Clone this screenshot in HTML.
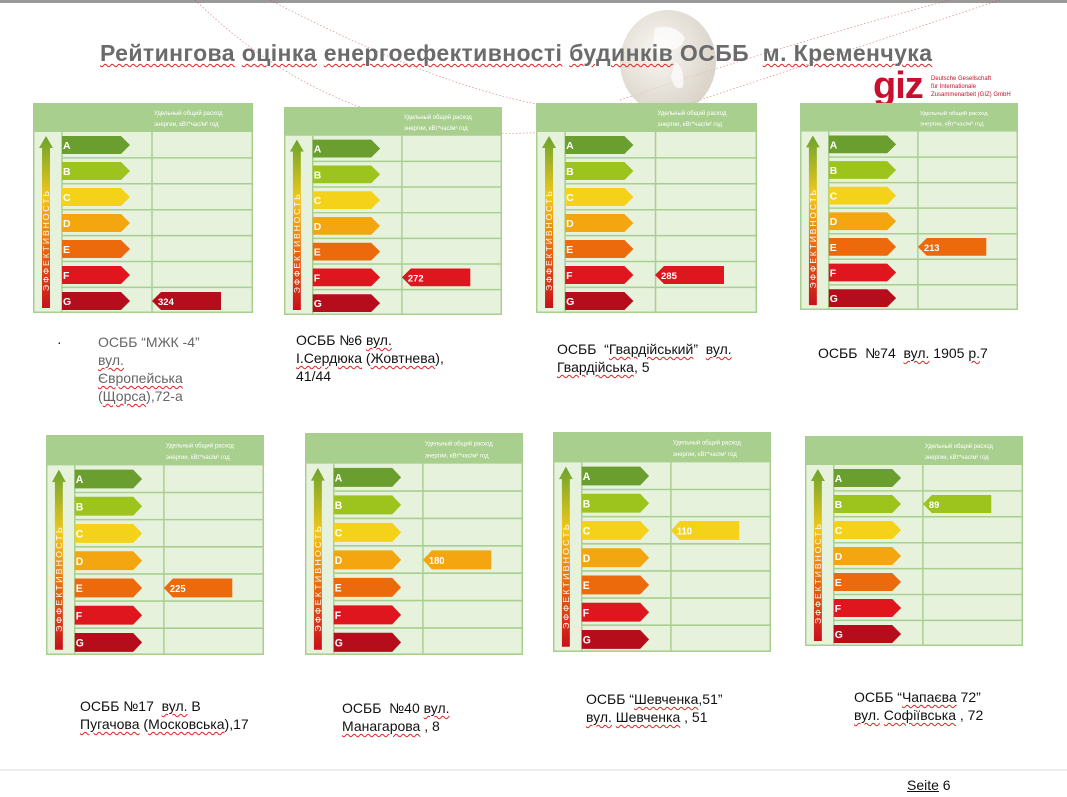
<!DOCTYPE html>
<html><head><meta charset="utf-8"><style>
body{margin:0;width:1067px;height:797px;background:#fff;position:relative;overflow:hidden;font-family:"Liberation Sans",sans-serif}
.cap{position:absolute;font-size:14px;line-height:18px;color:#111}
.u{text-decoration:underline wavy #d22;text-decoration-thickness:1px;text-underline-offset:2px}
svg.ch{position:absolute}
</style></head><body>
<svg width="1067" height="797" style="position:absolute;left:0;top:0">
<defs>
<radialGradient id="gl" cx="0.4" cy="0.4" r="0.6"><stop offset="0" stop-color="#f7f5f0"/><stop offset="1" stop-color="#cfc7b8"/></radialGradient>
<linearGradient id="va" x1="0" y1="1" x2="0" y2="0"><stop offset="0" stop-color="#c8101c"/><stop offset="0.35" stop-color="#e86a10"/><stop offset="0.65" stop-color="#f2c81a"/><stop offset="1" stop-color="#6aa32e"/></linearGradient>
<symbol id="c" viewBox="0 0 220 210" preserveAspectRatio="none">
<rect x="0" y="0" width="220" height="210" fill="#e6f2dc"/>
<rect x="0" y="0" width="220" height="29" fill="#a8cf8e"/>
<g stroke="#a9cf90" stroke-width="1.5" fill="none">
<rect x="0.75" y="0.75" width="218.5" height="208.5"/>
<line x1="29" y1="29" x2="29" y2="210"/><line x1="119" y1="29" x2="119" y2="210"/>
<line x1="29" y1="54.9" x2="220" y2="54.9"/><line x1="29" y1="80.8" x2="220" y2="80.8"/><line x1="29" y1="106.7" x2="220" y2="106.7"/><line x1="29" y1="132.6" x2="220" y2="132.6"/><line x1="29" y1="158.5" x2="220" y2="158.5"/><line x1="29" y1="184.4" x2="220" y2="184.4"/>
</g>
<text x="121" y="12" font-size="6" fill="#fff">Удельный общий расход</text>
<text x="121" y="23" font-size="6" fill="#fff">энергии, кВт*час/м² год</text>
<polygon points="13,33 20,45 17,45 17,205 9,205 9,45 6,45" fill="url(#va)"/>
<text transform="translate(16,188) rotate(-90)" font-size="8.5" fill="#fff" letter-spacing="2">ЭФФЕКТИВНОСТЬ</text>
<g font-size="10.5" font-weight="bold" fill="#fff">
<polygon points="29,33 88,33 97,42 88,51 29,51" fill="#6a9e2e"/><text x="30" y="46">A</text>
<polygon points="29,59 88,59 97,68 88,77 29,77" fill="#9cc41c"/><text x="30" y="72">B</text>
<polygon points="29,85 88,85 97,94 88,103 29,103" fill="#f5d21a"/><text x="30" y="98">C</text>
<polygon points="29,111 88,111 97,120 88,129 29,129" fill="#f3a60f"/><text x="30" y="124">D</text>
<polygon points="29,137 88,137 97,146 88,155 29,155" fill="#ec6a0c"/><text x="30" y="150">E</text>
<polygon points="29,163 88,163 97,172 88,181 29,181" fill="#e0161e"/><text x="30" y="176">F</text>
<polygon points="29,189 88,189 97,198 88,207 29,207" fill="#b50d1c"/><text x="30" y="202">G</text>
</g>
</symbol>
</defs>
<rect x="0" y="0" width="1067" height="3" fill="#999"/>
<g stroke="#c33" stroke-width="0.7" stroke-dasharray="1.5,2" fill="none" opacity="0.6">
<path d="M195,0 Q400,200 700,100"/><path d="M270,0 Q500,120 620,110"/><path d="M620,100 Q800,40 950,0"/><path d="M700,100 Q850,50 1000,0"/>
</g>
<ellipse cx="668" cy="62" rx="48" ry="52" fill="url(#gl)" opacity="0.75"/>
<path d="M655,28 q20,-5 30,10 q-5,15 -20,10 q-5,10 -12,0z M675,62 q10,5 8,25 q-8,5 -12,-10z" fill="#fff" opacity="0.7"/>
<line x1="0" y1="770" x2="1067" y2="770" stroke="#ddd" stroke-width="1"/>
</svg>
<div style="position:absolute;left:100px;top:40px;font-size:23px;font-weight:bold;color:#6b6b6b;white-space:nowrap;letter-spacing:0.4px"><span class="u">Рейтингова</span> <span class="u">оцінка</span> <span class="u">енергоефективності</span> <span class="u">будинків</span> ОСББ&nbsp; <span class="u">м. Кременчука</span></div>
<div style="position:absolute;left:873px;top:70px;font-size:38px;font-weight:bold;color:#c8102e;line-height:32px;letter-spacing:-1px">giz</div>
<div style="position:absolute;left:931px;top:75px;font-size:6px;line-height:8px;color:#c8102e">Deutsche Gesellschaft<br>für Internationale<br>Zusammenarbeit (GIZ) GmbH</div>

<svg class="ch" style="left:33px;top:103px" width="220" height="210"><use href="#c" width="220" height="210"/><polygon points="119,198 128,189 188,189 188,207 128,207" fill="#b50d1c"/><text x="125" y="202" font-size="9.5" font-weight="bold" fill="#fff">324</text></svg>
<svg class="ch" style="left:284px;top:107px" width="218" height="208"><use href="#c" width="218" height="208"/><svg viewBox="0 0 220 210" width="218" height="208" preserveAspectRatio="none"><polygon points="119,172 128,163 188,163 188,181 128,181" fill="#e0161e"/><text x="125" y="176" font-size="9.5" font-weight="bold" fill="#fff">272</text></svg></svg>
<svg class="ch" style="left:536px;top:103px" width="221" height="210"><use href="#c" width="221" height="210"/><polygon points="119,172 128,163 188,163 188,181 128,181" fill="#e0161e"/><text x="125" y="176" font-size="9.5" font-weight="bold" fill="#fff">285</text></svg>
<svg class="ch" style="left:800px;top:103px" width="218" height="207"><use href="#c" width="218" height="207"/><svg viewBox="0 0 220 210" width="218" height="207" preserveAspectRatio="none"><polygon points="119,146 128,137 188,137 188,155 128,155" fill="#ec6a0c"/><text x="125" y="150" font-size="9.5" font-weight="bold" fill="#fff">213</text></svg></svg>

<svg class="ch" style="left:46px;top:435px" width="218" height="220"><use href="#c" width="218" height="220"/><svg viewBox="0 0 220 210" width="218" height="220" preserveAspectRatio="none"><polygon points="119,146 128,137 188,137 188,155 128,155" fill="#ec6a0c"/><text x="125" y="150" font-size="9.5" font-weight="bold" fill="#fff">225</text></svg></svg>
<svg class="ch" style="left:305px;top:433px" width="218" height="222"><use href="#c" width="218" height="222"/><svg viewBox="0 0 220 210" width="218" height="222" preserveAspectRatio="none"><polygon points="119,120 128,111 188,111 188,129 128,129" fill="#f3a60f"/><text x="125" y="124" font-size="9.5" font-weight="bold" fill="#fff">180</text></svg></svg>
<svg class="ch" style="left:553px;top:432px" width="218" height="220"><use href="#c" width="218" height="220"/><svg viewBox="0 0 220 210" width="218" height="220" preserveAspectRatio="none"><polygon points="119,94 128,85 188,85 188,103 128,103" fill="#f5d21a"/><text x="125" y="98" font-size="9.5" font-weight="bold" fill="#fff">110</text></svg></svg>
<svg class="ch" style="left:805px;top:436px" width="218" height="210"><use href="#c" width="218" height="210"/><svg viewBox="0 0 220 210" width="218" height="210" preserveAspectRatio="none"><polygon points="119,68 128,59 188,59 188,77 128,77" fill="#9cc41c"/><text x="125" y="72" font-size="9.5" font-weight="bold" fill="#fff">89</text></svg></svg>

<div class="cap" style="left:57px;top:333px">·</div>
<div class="cap" style="left:98px;top:333px;color:#666">ОСББ “МЖК -4”<br><span class="u">вул.</span><br><span class="u">Європейська</span><br>(<span class="u">Щорса</span>),72-а</div>
<div class="cap" style="left:296px;top:331px">ОСББ №6 <span class="u">вул.</span><br><span class="u">І.Сердюка</span> (<span class="u">Жовтнева</span>),<br>41/44</div>
<div class="cap" style="left:557px;top:340px">ОСББ&nbsp; “<span class="u">Гвардійський</span>”&nbsp; <span class="u">вул.</span><br><span class="u">Гвардійська</span>, 5</div>
<div class="cap" style="left:818px;top:344px">ОСББ&nbsp; №74&nbsp; <span class="u">вул.</span> 1905 <span class="u">р.</span>7</div>
<div class="cap" style="left:80px;top:697px">ОСББ №17&nbsp; <span class="u">вул.</span> В<br><span class="u">Пугачова</span> (<span class="u">Московська</span>),17</div>
<div class="cap" style="left:342px;top:699px">ОСББ&nbsp; №40 <span class="u">вул.</span><br><span class="u">Манагарова</span> , 8</div>
<div class="cap" style="left:586px;top:690px">ОСББ “<span class="u">Шевченка</span>,51”<br><span class="u">вул.</span> <span class="u">Шевченка</span> , 51</div>
<div class="cap" style="left:854px;top:688px">ОСББ “<span class="u">Чапаєва</span> 72”<br><span class="u">вул.</span> <span class="u">Софіївська</span> , 72</div>
<div class="cap" style="left:907px;top:776px;font-size:14px"><span style="text-decoration:underline">Seite</span> 6</div>
</body></html>
